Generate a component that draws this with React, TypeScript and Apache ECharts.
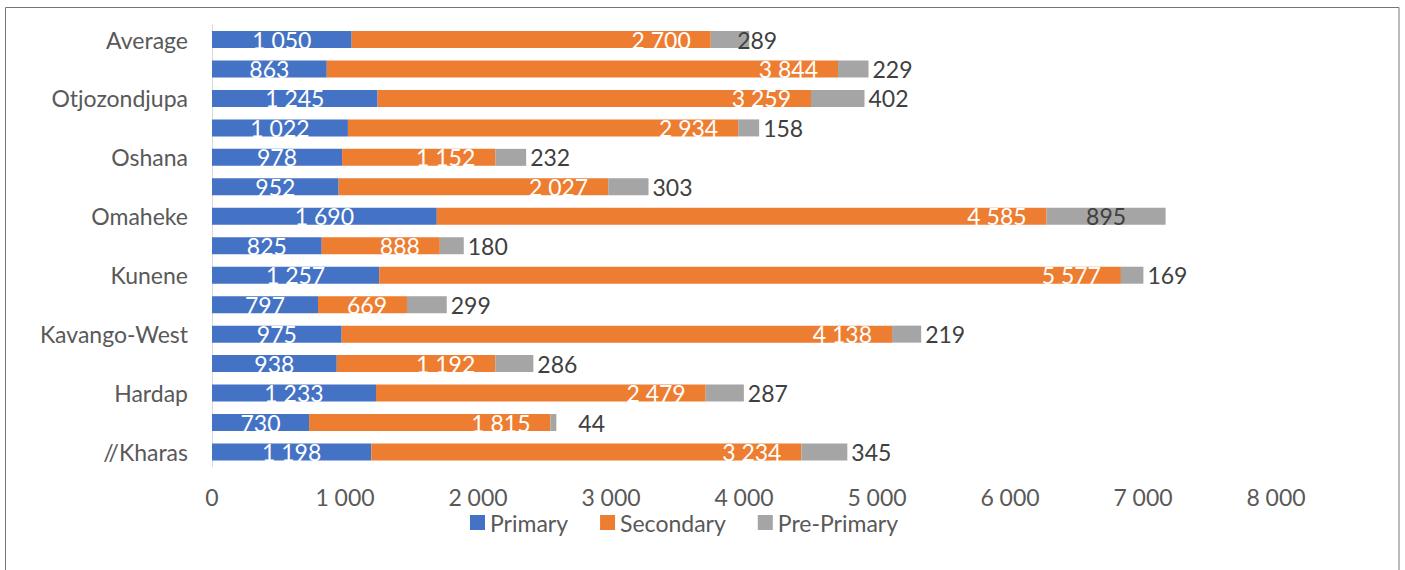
import React, { useEffect, useRef } from "react";
import * as echarts from "echarts";

const categories = [
  "//Kharas", "Erongo", "Hardap", "Kavango-East", "Kavango-West", "Khomas", "Kunene",
  "Ohangwena", "Omaheke", "Omusati", "Oshana", "Oshikoto", "Otjozondjupa", "Zambezi", "Average",
];
const primary = [1198, 730, 1233, 938, 975, 797, 1257, 825, 1690, 952, 978, 1022, 1245, 863, 1050];
const secondary = [3234, 1815, 2479, 1192, 4138, 669, 5577, 888, 4585, 2027, 1152, 2934, 3259, 3844, 2700];
const prePrimary = [345, 44, 287, 286, 219, 299, 169, 180, 895, 303, 232, 158, 402, 229, 289];
const xTicks = [0, 1000, 2000, 3000, 4000, 5000, 6000, 7000, 8000];

const fmt = (v: number) => String(v).replace(/\B(?=(\d{3})+(?!\d))/g, " ");
const FONT = "Lato";
const FS = 23;

export default function App() {
  const ref = useRef<HTMLDivElement>(null);
  useEffect(() => {
    document.body.style.margin = "0";
    if (!ref.current) return;
    const chart = echarts.init(ref.current, null, { renderer: "svg" });
    const preData = prePrimary.map((v, i) => {
      const name = categories[i];
      if (name === "Omaheke") return { value: v, label: { position: "inside" } };
      if (name === "Average") return { value: v, label: { offset: [-16, 0] } };
      if (name === "Erongo") return { value: v, label: { offset: [18, 0] } };
      return v;
    });
    chart.setOption({
      animation: false,
      textStyle: { fontFamily: FONT },
      graphic: [
        {
          type: "rect",
          shape: { x: 5.5, y: 7.5, width: 1393.5, height: 620 },
          style: { fill: "none", stroke: "#767676", lineWidth: 1 },
          silent: true,
        },
      ],
      grid: { left: 212, right: 129, top: 24.8, bottom: 103.3, containLabel: false },
      legend: {
        left: 465,
        top: 506,
        itemWidth: 15,
        itemHeight: 15,
        itemGap: 32,
        icon: "rect",
        textStyle: { fontFamily: FONT, fontSize: FS, color: "#595959" },
        data: ["Primary", "Secondary", "Pre-Primary"],
      },
      xAxis: {
        type: "value",
        min: 0,
        max: 8000,
        interval: 1000,
        axisLine: { show: false },
        axisTick: { show: false },
        splitLine: { show: false },
        axisLabel: {
          fontFamily: FONT,
          fontSize: FS,
          color: "#595959",
          margin: 19,
          formatter: (v: number) => (xTicks.includes(v) ? fmt(v) : ""),
        },
      },
      yAxis: {
        type: "category",
        data: categories,
        axisLine: { show: true, lineStyle: { color: "#d9d9d9", width: 1 } },
        axisTick: { show: false },
        axisLabel: { interval: 1, fontFamily: FONT, fontSize: FS, color: "#595959", margin: 24 },
      },
      series: [
        {
          name: "Primary",
          type: "bar",
          stack: "t",
          barWidth: 17,
          data: primary,
          itemStyle: { color: "#4472c4" },
          label: {
            show: true,
            position: "inside",
            color: "#ffffff",
            fontFamily: FONT,
            fontSize: FS,
            formatter: (p: any) => fmt(p.value),
          },
        },
        {
          name: "Secondary",
          type: "bar",
          stack: "t",
          barWidth: 17,
          data: secondary,
          itemStyle: { color: "#ed7d31" },
          label: {
            show: true,
            position: "insideRight",
            distance: 20,
            color: "#ffffff",
            fontFamily: FONT,
            fontSize: FS,
            formatter: (p: any) => fmt(p.value),
          },
        },
        {
          name: "Pre-Primary",
          type: "bar",
          stack: "t",
          barWidth: 17,
          data: preData,
          itemStyle: { color: "#a5a5a5" },
          label: {
            show: true,
            position: "right",
            distance: 4,
            color: "#404040",
            fontFamily: FONT,
            fontSize: FS,
            formatter: (p: any) => fmt(p.value),
          },
        },
      ],
    });
    return () => chart.dispose();
  }, []);
  return <div ref={ref} style={{ width: 1405, height: 570 }} />;
}
